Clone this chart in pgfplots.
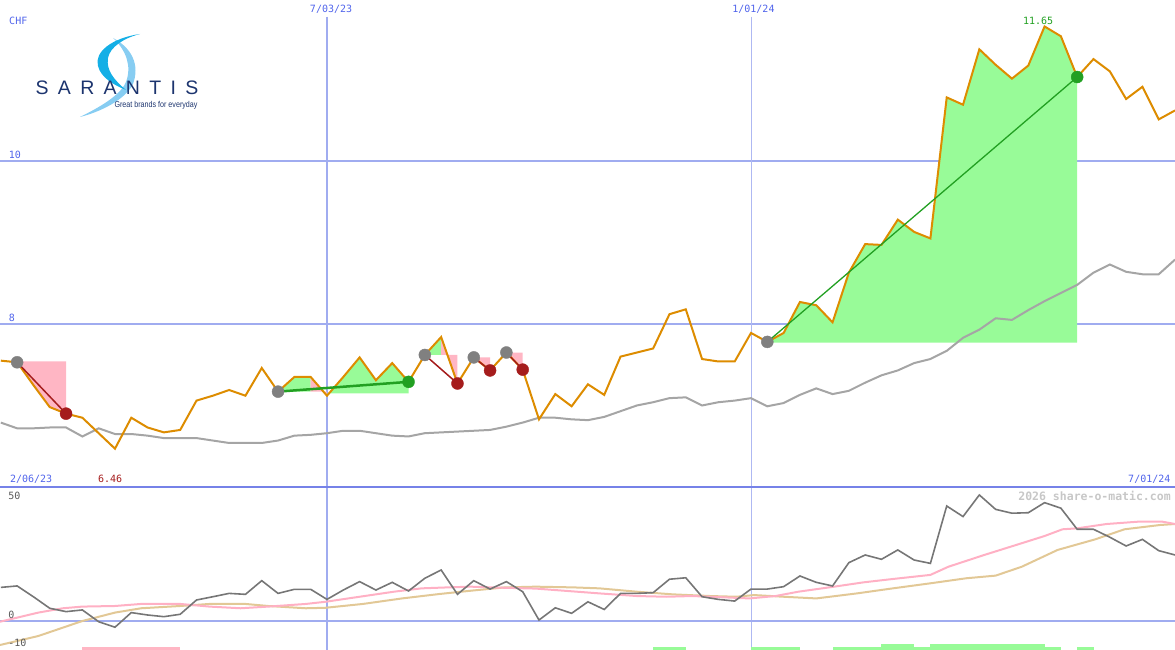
\documentclass[border=0pt]{standalone}
\usepackage{pgfplots}
\usepackage{pgfplotstable}
\pgfplotsset{compat=1.18}
\usepackage{fontspec}
\setmainfont{DejaVu Sans Mono}
\newfontfamily\logofont{Liberation Sans}

\definecolor{gridblue}{RGB}{160,172,240}
\definecolor{sepblue}{RGB}{118,130,232}
\definecolor{txtblue}{RGB}{80,100,235}
\definecolor{priceor}{RGB}{221,140,0}
\definecolor{magray}{RGB}{165,165,165}
\definecolor{fillgreen}{RGB}{152,251,152}
\definecolor{fillpink}{RGB}{255,182,196}
\definecolor{dkred}{RGB}{165,28,28}
\definecolor{dkgreen}{RGB}{34,160,34}
\definecolor{mkgray}{RGB}{128,128,128}
\definecolor{oscgray}{RGB}{118,118,118}
\definecolor{oscpink}{RGB}{255,176,196}
\definecolor{osctan}{RGB}{226,200,150}
\definecolor{navy}{RGB}{28,52,110}
\definecolor{swcyan}{RGB}{20,175,230}
\definecolor{swlight}{RGB}{135,205,242}

\pgfplotstableread{
w p
-20 7.55
-19 7.53
-18 7.25
-17 6.98
-16 6.90
-15 6.85
-14 6.66
-13 6.47
-12 6.85
-11 6.73
-10 6.67
-9 6.70
-8 7.06
-7 7.12
-6 7.19
-5 7.12
-4 7.46
-3 7.17
-2 7.35
-1 7.35
0 7.12
1 7.35
2 7.59
3 7.31
4 7.52
5 7.29
6 7.62
7 7.84
8 7.27
9 7.59
10 7.43
11 7.65
12 7.44
13 6.83
14 7.14
15 6.99
16 7.26
17 7.13
18 7.60
19 7.65
20 7.70
21 8.12
22 8.18
23 7.57
24 7.54
25 7.54
26 7.89
27 7.78
28 7.89
29 8.27
30 8.23
31 8.02
32 8.63
33 8.98
34 8.97
35 9.28
36 9.13
37 9.05
38 10.78
39 10.69
40 11.37
41 11.18
42 11.01
43 11.17
44 11.65
45 11.53
46 11.03
47 11.25
48 11.10
49 10.76
50 10.91
51 10.51
52 10.62
}\price

\pgfplotstableread{
w m
-20 6.79
-19 6.72
-18 6.72
-17 6.73
-16 6.73
-15 6.62
-14 6.72
-13 6.65
-12 6.65
-11 6.63
-10 6.60
-9 6.60
-8 6.60
-7 6.57
-6 6.54
-5 6.54
-4 6.54
-3 6.57
-2 6.63
-1 6.64
0 6.66
1 6.69
2 6.69
3 6.66
4 6.63
5 6.62
6 6.66
7 6.67
8 6.68
9 6.69
10 6.70
11 6.74
12 6.79
13 6.85
14 6.85
15 6.83
16 6.82
17 6.86
18 6.93
19 7.00
20 7.04
21 7.09
22 7.10
23 7.00
24 7.04
25 7.06
26 7.09
27 6.99
28 7.03
29 7.13
30 7.21
31 7.14
32 7.18
33 7.28
34 7.37
35 7.43
36 7.52
37 7.57
38 7.67
39 7.83
40 7.93
41 8.07
42 8.05
43 8.17
44 8.28
45 8.38
46 8.48
47 8.63
48 8.73
49 8.64
50 8.61
51 8.61
52 8.79
}\mavg

\pgfplotstableread{
w o
-20 14.0
-19 14.6
-18 10.1
-17 5.3
-16 3.9
-15 4.6
-14 -0.3
-13 -2.6
-12 3.5
-11 2.5
-10 1.8
-9 2.8
-8 8.75
-7 10.1
-6 11.5
-5 11.1
-4 16.8
-3 11.5
-2 13.2
-1 13.2
0 9.0
1 12.9
2 16.4
3 12.9
4 16.1
5 12.5
6 17.8
7 21.25
8 11.1
9 16.8
10 13.3
11 16.4
12 12.2
13 0.4
14 5.5
15 3.2
16 8.0
17 4.8
18 11.5
19 11.5
20 11.8
21 17.4
22 18.0
23 10.1
24 9.0
25 8.3
26 13.3
27 13.3
28 14.3
29 18.75
30 16.1
31 14.6
32 24.3
33 27.5
34 25.7
35 29.6
36 25.4
37 24.0
38 47.9
39 43.5
40 52.5
41 46.5
42 44.9
43 45.1
44 49.3
45 47.0
46 38.2
47 38.2
48 34.9
49 31.25
50 34.0
51 29.3
52 27.5
}\osc

\pgfplotstableread{
w s
-20.05 -0.3
-17.7 3.5
-16.2 5.3
-15 6.0
-13 6.25
-11.4 7.1
-9 7.1
-7.2 6.0
-5.3 5.3
-3.6 6.0
-1.3 7.1
-0.1 8.0
2 10.1
4.1 12.2
5.8 13.6
7.4 14.0
8.8 14.3
10.5 13.9
12.8 13.5
16.7 11.5
19 10.4
20.8 10.1
22.4 10.4
24.2 9.9
25.9 9.4
27.5 10.4
28.9 12.2
31.1 14.3
32.9 16.1
34.7 17.5
37 19.2
38.1 22.6
40.3 27.5
42.6 32.4
44 35.4
45.1 38.2
46 38.6
47.8 40.4
49.8 41.4
51.2 41.4
52 40.4
}\oscpinkt

\pgfplotstableread{
w s
-20.05 -10
-17.7 -6.25
-15 0
-13 3.5
-11.4 5.3
-9 6.25
-7.2 7.1
-5 7.1
-3.6 6.25
-1.3 5.3
-0.1 5.5
2.2 7.1
4.6 9.4
6.9 11.25
8.8 12.6
10.9 14.0
12.8 14.3
15.1 14.0
16.7 13.6
19 12.2
21.2 11.1
23.5 10.4
25.1 10.1
26.2 10.8
28 10.1
30 9.4
32.5 11.5
34.7 13.6
37 15.7
39.2 17.8
41 18.9
42.6 22.6
44.8 29.6
47.1 34.0
48.9 38.2
51.1 40.0
52 40.4
}\osctant

\begin{document}
\begin{tikzpicture}[font=\fontsize{10}{12}\selectfont]
\useasboundingbox (0,0) rectangle (1175pt,650pt);

% ---------------- top panel ----------------
\begin{axis}[at={(0,163pt)}, anchor=south west, width=1175pt, height=487pt,
  scale only axis, xmin=-20.05, xmax=52, ymin=6.0, ymax=11.975,
  axis lines=none, clip=false]
  % grid
  \draw[gridblue, line width=2pt] (axis cs:-20.05,10) -- (axis cs:52,10);
  \draw[gridblue, line width=2pt] (axis cs:-20.05,8) -- (axis cs:52,8);
  \draw[gridblue, line width=2pt] (axis cs:0,11.77) -- (axis cs:0,6.0);
  \draw[gridblue!85!white, line width=1pt] (axis cs:26,11.77) -- (axis cs:26,6.0);
  % trade fills
  \addplot[fill=fillpink, draw=none] coordinates {(-19,7.54) (-18,7.25) (-17,6.98) (-16,6.90) (-16,7.54)};
  \addplot[fill=fillgreen, draw=none] coordinates {(-3,7.17) (-2,7.35) (-1,7.35) (-1,7.17)};
  \addplot[fill=fillpink, draw=none] coordinates {(-1,7.17) (-1,7.35) (0,7.12) (0,7.17)};
  \addplot[fill=fillgreen, draw=none] coordinates {(0,7.15) (0,7.12) (1,7.35) (2,7.59) (3,7.31) (4,7.52) (5,7.29) (5,7.15)};
  \addplot[fill=fillgreen, draw=none] coordinates {(6,7.62) (7,7.84) (7,7.62)};
  \addplot[fill=fillpink, draw=none] coordinates {(7,7.62) (7,7.84) (8,7.27) (8,7.62)};
  \addplot[fill=fillpink, draw=none] coordinates {(9,7.59) (10,7.43) (10,7.59)};
  \addplot[fill=fillpink, draw=none] coordinates {(11,7.65) (12,7.44) (12,7.65)};
  \addplot[fill=fillgreen, draw=none] coordinates {(27,7.77) (28,7.89) (29,8.27) (30,8.23) (31,8.02) (32,8.63) (33,8.98) (34,8.97) (35,9.28) (36,9.13) (37,9.05) (38,10.78) (39,10.69) (40,11.37) (41,11.18) (42,11.01) (43,11.17) (44,11.65) (45,11.53) (46,11.03) (46,7.77)};
  % separator
  \draw[sepblue, line width=2pt] (axis cs:-20.05,6.0) -- (axis cs:52,6.0);
  % moving average and price
  \addplot[magray, line width=2pt, mark=none] table[x=w,y=m] {\mavg};
  \addplot[priceor, line width=2pt, mark=none] table[x=w,y=p] {\price};
  % trade lines
  \addplot[dkred, line width=1.5pt, mark=none] coordinates {(-19,7.53) (-16,6.90)};
  \addplot[dkred, line width=1.5pt, mark=none] coordinates {(6,7.62) (8,7.27)};
  \addplot[dkred, line width=1.5pt, mark=none] coordinates {(9,7.59) (10,7.43)};
  \addplot[dkred, line width=1.5pt, mark=none] coordinates {(11,7.65) (12,7.44)};
  \addplot[dkgreen, line width=2.5pt, mark=none] coordinates {(-3,7.17) (5,7.29)};
  \addplot[dkgreen, line width=1.3pt, mark=none] coordinates {(27,7.78) (46,11.03)};
  % markers
  \addplot[only marks, mark=*, mark size=6pt, color=mkgray] coordinates {(-19,7.53) (-3,7.17) (6,7.62) (9,7.59) (11,7.65) (27,7.78)};
  \addplot[only marks, mark=*, mark size=6pt, color=dkred] coordinates {(-16,6.90) (8,7.27) (10,7.43) (12,7.44)};
  \addplot[only marks, mark=*, mark size=6pt, color=dkgreen] coordinates {(5,7.29) (46,11.03)};
  % labels
  \node[anchor=west, txtblue] at (axis cs:-19.7,11.72) {CHF};
  \node[txtblue] at (axis cs:0.25,11.865) {7/03/23};
  \node[txtblue] at (axis cs:26.15,11.865) {1/01/24};
  \node[anchor=west, txtblue] at (axis cs:-19.72,10.07) {10};
  \node[anchor=west, txtblue] at (axis cs:-19.72,8.07) {8};
  \node[anchor=west, txtblue] at (axis cs:-19.65,6.10) {2/06/23};
  \node[dkred] at (axis cs:-13.3,6.10) {6.46};
  \node[anchor=east, txtblue] at (axis cs:51.93,6.10) {7/01/24};
  \node[dkgreen] at (axis cs:43.6,11.72) {11.65};
\end{axis}

% ---------------- bottom panel ----------------
\begin{axis}[at={(0,0)}, anchor=south west, width=1175pt, height=162pt,
  scale only axis, xmin=-20.05, xmax=52, ymin=-12.08, ymax=55.4,
  axis lines=none, clip=false]
  \draw[gridblue, line width=2pt] (axis cs:0,55.4) -- (axis cs:0,-12.08);
  \draw[gridblue!85!white, line width=1pt] (axis cs:26,55.4) -- (axis cs:26,-12.08);
  \draw[gridblue, line width=2pt] (axis cs:-20.05,0) -- (axis cs:52,0);
  % bars
  \addplot[fill=fillpink, draw=none] coordinates {(-15,-12.08) (-15,-10.8) (-9,-10.8) (-9,-12.08)};
  \addplot[fill=fillgreen, draw=none] coordinates {(20,-12.08) (20,-10.8) (22,-10.8) (22,-12.08)};
  \addplot[fill=fillgreen, draw=none] coordinates {(26,-12.08) (26,-10.8) (29,-10.8) (29,-12.08)};
  \addplot[fill=fillgreen, draw=none] coordinates {(31,-12.08) (31,-10.8) (34,-10.8) (34,-12.08)};
  \addplot[fill=fillgreen, draw=none] coordinates {(34,-12.08) (34,-9.6) (36,-9.6) (36,-12.08)};
  \addplot[fill=fillgreen, draw=none] coordinates {(36,-12.08) (36,-10.8) (37,-10.8) (37,-12.08)};
  \addplot[fill=fillgreen, draw=none] coordinates {(37,-12.08) (37,-9.6) (44,-9.6) (44,-12.08)};
  \addplot[fill=fillgreen, draw=none] coordinates {(44,-12.08) (44,-10.8) (45,-10.8) (45,-12.08)};
  \addplot[fill=fillgreen, draw=none] coordinates {(46,-12.08) (46,-10.8) (47,-10.8) (47,-12.08)};
  % lines
  \addplot[osctan, line width=2pt, mark=none] table[x=w,y=s] {\osctant};
  \addplot[oscpink, line width=2pt, mark=none] table[x=w,y=s] {\oscpinkt};
  \addplot[oscgray, line width=1.6pt, mark=none] table[x=w,y=o] {\osc};
  % labels
  \node[anchor=west, black!65] at (axis cs:-19.75,52.1) {50};
  \node[anchor=west, black!65] at (axis cs:-19.75,2.6) {0};
  \node[anchor=west, black!65] at (axis cs:-19.75,-9.2) {-10};
  \node[anchor=east, black!22, font=\fontsize{11.5}{13}\selectfont\bfseries] at (axis cs:51.95,51.9) {2026 share-o-matic.com};
\end{axis}

% ---------------- logo ----------------
\begin{scope}[x=1pt, y=-1pt, shift={(0,650pt)}]
  \fill[swlight] (113,38) .. controls (132,48) and (140,65) .. (133,84)
     .. controls (125,100) and (100,112) .. (80,117)
     .. controls (98,108) and (120,96) .. (126,82)
     .. controls (132,66) and (126,50) .. (113,38) -- cycle;
  \fill[swcyan] (140,34) .. controls (112,38) and (94,52) .. (98,66)
     .. controls (101,78) and (114,85) .. (126,90)
     .. controls (114,80) and (106,70) .. (108,58)
     .. controls (110,47) and (124,38) .. (140,34) -- cycle;
  \node[navy, inner sep=0pt] at (117,87.5) {\logofont\fontsize{19.5}{20}\selectfont S\hskip9.3pt A\hskip9.3pt R\hskip9.3pt A\hskip9.3pt N\hskip9.3pt T\hskip9.3pt I\hskip9.3pt S};
  \node[navy, inner sep=0pt] at (156,105) {\logofont\fontsize{8.5}{9}\selectfont\scalebox{0.84}[1]{Great brands for everyday}};
\end{scope}
\end{tikzpicture}
\end{document}
